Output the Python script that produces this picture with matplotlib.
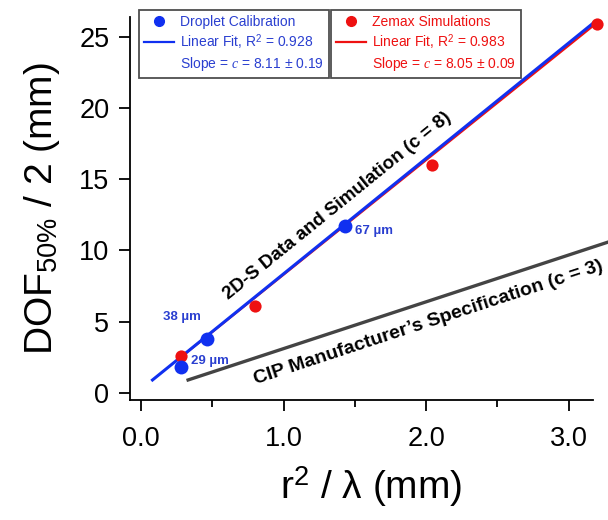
import numpy as np
import matplotlib
matplotlib.use("Agg")
import matplotlib.pyplot as plt
from matplotlib.lines import Line2D

plt.rcParams['font.family'] = ['Liberation Sans', 'DejaVu Sans']
plt.rcParams['mathtext.fontset'] = 'custom'
plt.rcParams['mathtext.rm'] = 'Liberation Sans'
plt.rcParams['mathtext.it'] = 'Liberation Serif:italic'
plt.rcParams['mathtext.bf'] = 'Liberation Sans:bold'

# droplet calibration (blue)
drop_x = [0.28, 0.46, 1.43]
drop_y = [1.8, 3.8, 11.7]
drop_lbl = ["29 µm", "38 µm", "67 µm"]

# zemax simulations (red)
zem_x = [0.28, 0.80, 2.04, 3.20]
zem_y = [2.6, 6.1, 16.0, 25.9]

# linear fits
drop_fit_x = [0.08, 3.17]
drop_slope, drop_icpt = 8.11, 0.25
zem_fit_x = [0.28, 3.19]
zem_slope, zem_icpt = 8.05, 0.25

# manufacturer spec line
cip_x = [0.33, 3.28]
cip_y = [0.9, 10.6]

blue = '#1030f0'
red = '#ee1111'
blue_txt = '#2a3fd0'

fig = plt.figure(figsize=(6.08, 5.2), dpi=100)
ax = fig.add_axes([0.214, 0.231, 0.761, 0.736])

zx = np.array(zem_fit_x)
ax.plot(zx, zem_slope * zx + zem_icpt, color=red, lw=1.6, clip_on=False)
dx = np.array(drop_fit_x)
ax.plot(dx, drop_slope * dx + drop_icpt, color=blue, lw=2.2, clip_on=False)
ax.plot(cip_x, cip_y, color='#444444', lw=2.4, clip_on=False)

ax.plot(zem_x, zem_y, 'o', color=red, ms=8.8, mec='none', clip_on=False, zorder=4)
ax.plot(drop_x, drop_y, 'o', color=blue, ms=10, mec='none', clip_on=False, zorder=5)

lbl_off = [(0.07, 0.45, 'left'), (-0.17, 1.5, 'center'), (0.07, -0.3, 'left')]
for x, y, s, (ox, oy, ha) in zip(drop_x, drop_y, drop_lbl, lbl_off):
    ax.text(x + ox, y + oy, s, color=blue_txt, fontsize=9.5, fontweight='bold',
            ha=ha, va='center')

ax.text(1.38, 13.1, "2D-S Data and Simulation (c = 8)", fontsize=13.5,
        fontweight='bold', rotation=np.degrees(np.arctan(drop_slope)),
        transform_rotates_text=True, ha='center', va='center',
        rotation_mode='anchor')
ax.text(2.02, 4.95, "CIP Manufacturer’s Specification (c = 3)", fontsize=14,
        fontweight='bold', rotation=np.degrees(np.arctan(3.29)),
        transform_rotates_text=True, ha='center', va='center',
        rotation_mode='anchor')

ax.set_xlim(-0.077, 3.17)
ax.set_ylim(-0.5, 26.4)
ax.set_xticks([0, 1, 2, 3])
ax.set_xticklabels(["0.0", "1.0", "2.0", "3.0"])
ax.set_xticks([0.5, 1.5, 2.5], minor=True)
ax.set_yticks([0, 5, 10, 15, 20, 25])
ax.tick_params(labelsize=19.5, width=1.3, length=8, direction='out')
ax.tick_params(axis='x', pad=11)
ax.tick_params(axis='y', pad=7)
ax.tick_params(which='minor', width=1.3, length=5)
for s in ['top', 'right']:
    ax.spines[s].set_visible(False)
for s in ['left', 'bottom']:
    ax.spines[s].set_linewidth(1.3)

ax.set_xlabel(r"r$^2$ / λ (mm)", fontsize=28, labelpad=8)
ax.xaxis.set_label_coords(0.52, -0.17)
ax.set_ylabel(r"DOF$_{50\%}$ / 2 (mm)", fontsize=28, labelpad=12)

# legends
def make_leg(color, tcol, r2, slope, bbox):
    handles = [Line2D([], [], ls='none', marker='o', color=color, ms=7),
               Line2D([], [], color=color, lw=1.6),
               Line2D([], [], ls='none')]
    labels = ["Droplet Calibration" if color == blue else "Zemax Simulations",
              "Linear Fit, R$^2$ = " + r2,
              "Slope = $c$ = " + slope]
    leg = fig.legend(handles, labels, loc='upper left', bbox_to_anchor=bbox,
                     bbox_transform=fig.transFigure, fontsize=10, frameon=True,
                     fancybox=False, edgecolor='#222222', handlelength=2.2,
                     handletextpad=0.4, borderpad=0.35, labelspacing=0.22,
                     borderaxespad=0)
    leg.get_frame().set_linewidth(1.3)
    for t in leg.get_texts():
        t.set_color(tcol)
    return leg

make_leg(blue, blue_txt, "0.928", "8.11 ± 0.19", (139 / 608, 1 - 10 / 520))
make_leg(red, red, "0.983", "8.05 ± 0.09", (331 / 608, 1 - 10 / 520))

fig.savefig("out.png", dpi=100)
